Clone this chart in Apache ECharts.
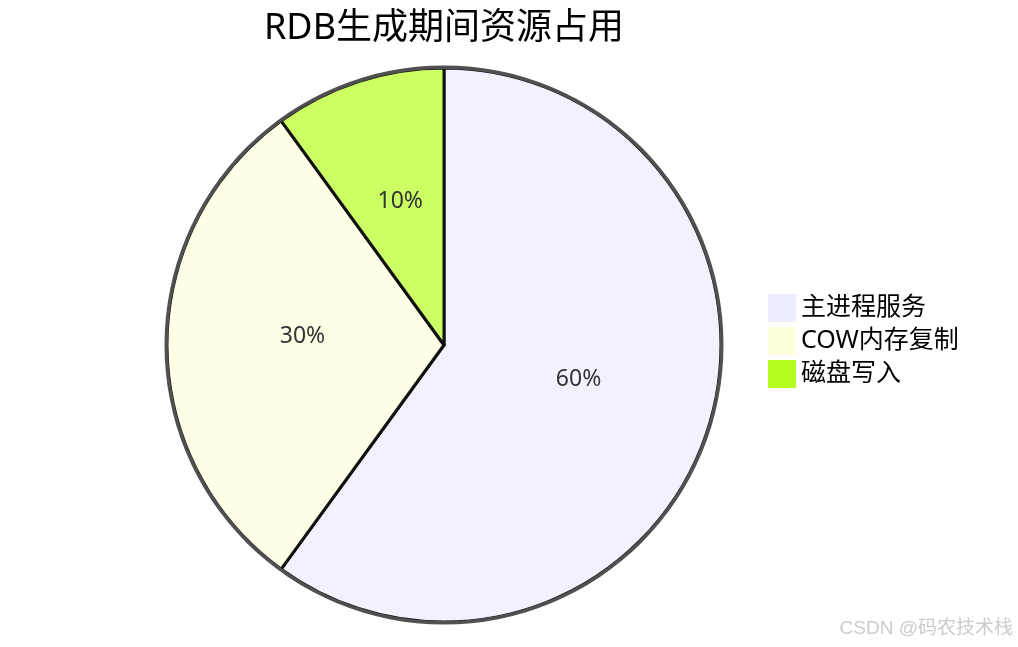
<!DOCTYPE html>
<html>
<head>
<meta charset="utf-8">
<script src="https://cdn.jsdelivr.net/npm/echarts@6/dist/echarts.min.js"></script>
<style>html,body{margin:0;padding:0;background:#fff;}#c{width:1018px;height:647px;}</style>
</head>
<body>
<div id="c"></div>
<script>
const titleText = 'RDB生成期间资源占用';
const categories = ['主进程服务', 'COW内存复制', '磁盘写入'];
const values = [60, 30, 10];
const sliceColors = ['#f2f2ff', '#ffffe8', '#cbff63'];
const legendColors = ['#ececff', '#ffffde', '#b5ff20'];
const watermark = 'CSDN @码农技术栈';

const FONT = "'Noto Sans', 'Noto Sans CJK SC', sans-serif";
const chart = echarts.init(document.getElementById('c'));
chart.setOption({
  animation: false,
  backgroundColor: '#fff',
  title: [
    { text: titleText, left: 444, top: 11, textAlign: 'center', padding: 0,
      textStyle: { fontFamily: FONT, fontSize: 36, fontWeight: 'normal', color: '#000' } },
    { text: watermark, right: 5, bottom: 9, padding: 0,
      textStyle: { fontFamily: "'Liberation Sans', 'Noto Sans CJK SC', sans-serif", fontSize: 19, fontWeight: 'normal', color: '#cccccc' } }
  ],
  legend: {
    orient: 'vertical', left: 768, top: 294, padding: 0,
    itemWidth: 28, itemHeight: 28, itemGap: 5, icon: 'rect',
    textStyle: { fontFamily: FONT, fontSize: 25, color: '#000', lineHeight: 28 },
    data: categories.map((c, i) => ({ name: c, itemStyle: { color: legendColors[i], opacity: 1, borderWidth: 0 } }))
  },
  series: [
    {
      type: 'pie', center: [444, 345], radius: 277, startAngle: 90, clockwise: true,
      label: { show: true, position: 'inside',
        formatter: p => '{t|' + p.value + '%}\n{s|}',
        rich: {
          t: { fontFamily: FONT, fontSize: 23, color: '#333', lineHeight: 20 },
          s: { height: 18, lineHeight: 18 }
        } },
      labelLine: { show: false },
      itemStyle: { borderColor: '#111', borderWidth: 3 },
      emphasis: { disabled: true },
      data: categories.map((c, i) => ({ name: c, value: values[i], itemStyle: { color: sliceColors[i] } }))
    },
    {
      type: 'pie', center: [444, 345], radius: [276, 279.5], silent: true,
      label: { show: false }, labelLine: { show: false }, legendHoverLink: false,
      itemStyle: { color: '#505050' }, emphasis: { disabled: true },
      data: [{ name: 'outline', value: values.reduce((a, b) => a + b, 0) }]
    }
  ]
});
</script>
</body>
</html>
